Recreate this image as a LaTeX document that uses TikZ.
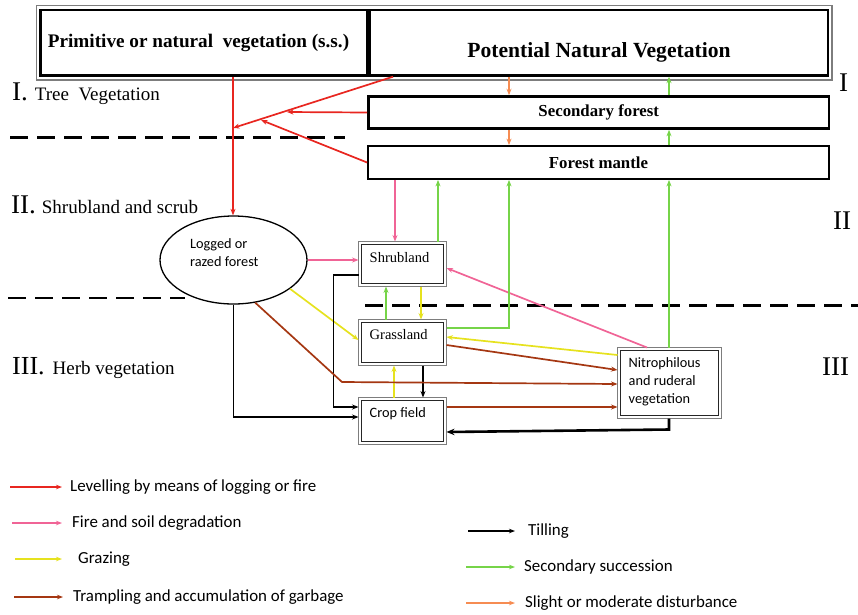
\documentclass[tikz,border=0pt]{standalone}
\usepackage{fontspec}
\setmainfont{Liberation Serif}
\newfontfamily\calib{Carlito}
\usetikzlibrary{arrows.meta,shapes.geometric}

\definecolor{cLevel}{RGB}{232,38,32}
\definecolor{cFire}{RGB}{240,100,150}
\definecolor{cGraze}{RGB}{230,226,30}
\definecolor{cTrample}{RGB}{165,55,18}
\definecolor{cSucc}{RGB}{118,212,72}
\definecolor{cDist}{RGB}{246,140,82}
\definecolor{cFrame}{RGB}{125,125,125}

\begin{document}
\begin{tikzpicture}[x=1pt, y=-1pt,
  flow/.style={line width=1.7pt, -{Stealth[length=6.5pt,width=5pt]}},
  level/.style={flow, draw=cLevel},
  fire/.style={flow, draw=cFire},
  graze/.style={flow, draw=cGraze},
  trample/.style={flow, draw=cTrample},
  till/.style={flow, draw=black},
  succ/.style={flow, draw=cSucc},
  dist/.style={flow, draw=cDist},
  legarrow/.style={line width=2pt, -{Stealth[length=6pt,width=4.5pt]}},
  bandbox/.style={rectangle, draw=black, line width=2.4pt, inner sep=0},
  layerbox/.style={rectangle, draw=black, inner sep=0,
    font=\bfseries\fontsize{16.8}{16.8}\selectfont},
  cellbox/.style={rectangle, draw=black!85, line width=1pt, inner sep=0, outer sep=3pt},
  frame/.style={draw=cFrame, line width=1.6pt},
  celltext/.style={inner sep=0, font=\fontsize{14.5}{14.5}\selectfont},
  sanstext/.style={inner sep=0, align=left, font=\calib\fontsize{14.3}{18}\selectfont},
  dashline/.style={line width=2.3pt, dash pattern=on 18pt off 9pt},
  zone/.style={anchor=base west, inner sep=0, font=\fontsize{19}{19}\selectfont},
  bignum/.style={anchor=base west, inner sep=0, font=\fontsize{27}{27}\selectfont},
  legend/.style={anchor=west, inner sep=0, font=\calib\fontsize{16.9}{16.9}\selectfont},
]
\useasboundingbox (0,0) rectangle (858,614);

% ---------- top band ----------
\node[bandbox, minimum width=327pt, minimum height=65.5pt,
  label={[font=\bfseries\fontsize{19.2}{19.2}\selectfont, xshift=-5.5pt]center:Primitive or natural\ \ vegetation (s.s.)}]
  (prim) at (204,42.75) {};
\node[bandbox, minimum width=458pt, minimum height=65.5pt,
  label={[font=\bfseries\fontsize{21.6}{21.6}\selectfont, yshift=-9.5pt]center:Potential Natural Vegetation}]
  (pnv) at (599,42.75) {};
\draw[frame] ([shift={(-3pt,3.5pt)}]prim.north west) rectangle ([shift={(3pt,-3pt)}]pnv.south east);

\node[layerbox, line width=2.6pt, minimum width=460.5pt, minimum height=32pt] (sf) at (598.75,112.5) {Secondary forest};
\node[layerbox, line width=1.8pt, minimum width=461pt, minimum height=33pt] (fm) at (598.5,162.5) {Forest mantle};

% ---------- zone separators and labels ----------
\draw[dashline] (10,137.5) -- (345,137.5);
\draw[dashline] (8,298) -- (185,298);
\draw[dashline] (365,305.5) -- (858,305.5);

\node[zone] (zI) at (12,100) {{\fontsize{27}{27}\selectfont I.}\hspace{7pt}Tree\ \ Vegetation};
\node[zone] (zII) at (11,213) {{\fontsize{27}{27}\selectfont II.}\hspace{6pt}Shrubland and scrub};
\node[zone] (zIII) at (12,374) {{\fontsize{26}{26}\selectfont III.}\hspace{8pt}Herb vegetation};
\node[bignum] (rI) at (839,91) {I};
\node[bignum] (rII) at (833,229) {II};
\node[bignum] (rIII) at (822,375) {III};

% ---------- vegetation stages ----------
\node[ellipse, draw, line width=1.3pt, minimum width=147pt, minimum height=88pt, inner sep=0,
  label={[sanstext, anchor=west, xshift=30.5pt, yshift=7pt]west:Logged or\\razed forest}]
  (ell) at (233.5,260) {};

\node[cellbox, minimum width=82pt, minimum height=39pt,
  label={[celltext, anchor=base west, xshift=11pt, yshift=-21pt]north west:Shrubland}]
  (shrub) at (402.5,264) {};
\node[cellbox, minimum width=82pt, minimum height=40pt,
  label={[celltext, anchor=base west, xshift=11pt, yshift=-20pt]north west:Grassland}]
  (grass) at (402.5,342.5) {};
\node[cellbox, minimum width=82pt, minimum height=41pt,
  label={[sanstext, anchor=base west, xshift=11pt, yshift=-20pt]north west:Crop field}]
  (crop) at (402.5,421) {};
\node[cellbox, minimum width=98pt, minimum height=65pt,
  label={[sanstext, anchor=west, xshift=11pt, yshift=1.5pt]west:Nitrophilous\\and ruderal\\vegetation}]
  (nitro) at (669.5,383) {};
\foreach \n in {shrub,grass,crop,nitro}
  \draw[frame] (\n.north west) rectangle (\n.south east);

% ---------- levelling by logging or fire ----------
\coordinate (J) at (233,128);
\coordinate (K1) at (287,112);
\coordinate (K2) at (261,120);
\draw[level] (393,0 |- pnv.south) -- (J);
\draw[level] (sf.west) -- (K1);
\draw[level] (fm.west) -- (K2);
\draw[level] (233,0 |- prim.south) -- (233,0 |- ell.north);

% ---------- fire and soil degradation ----------
\draw[fire] (395,0 |- fm.south) -- (395,0 |- shrub.north);
\draw[fire] (ell.east) -- (ell.east -| shrub.west);
\draw[fire] (647,0 |- nitro.north) -- ([yshift=-4pt]shrub.east);

% ---------- secondary succession ----------
\draw[succ] (438,0 |- shrub.north) -- (438,0 |- fm.south);
\draw[succ] ([yshift=14.5pt]grass.east) -| (509,0 |- fm.south);
\draw[succ] (669,0 |- nitro.north) -- (669,0 |- fm.south);
\draw[succ] (669,0 |- fm.north) -- (669,0 |- sf.south);
\draw[succ] (669,0 |- sf.north) -- (669,0 |- pnv.south);
\draw[succ] (386,0 |- grass.north) -- (386,0 |- shrub.south);

% ---------- slight or moderate disturbance ----------
\draw[dist] (509,0 |- pnv.south) -- (509,0 |- sf.north);
\draw[dist] (509,0 |- sf.south) -- (509,0 |- fm.north);

% ---------- grazing ----------
\draw[graze] (421,0 |- shrub.south) -- (421,0 |- grass.north);
\draw[graze] (ell.-27) -- ([yshift=2.5pt]grass.west);
\draw[graze] ([yshift=28pt]nitro.west) -- ([yshift=5.5pt]grass.east);
\draw[graze] (394,0 |- crop.north) -- (394,0 |- grass.south);

% ---------- tilling ----------
\draw[till] (423,0 |- grass.south) -- (423,0 |- crop.north);
\draw[till] ([yshift=-11pt]shrub.west) -- ++(-25,0) |- ([yshift=14pt]crop.west);
\draw[till] (ell.south) |- ([yshift=4pt]crop.west);
\draw[line width=2.6pt, -{Stealth[length=8pt,width=6.5pt]}]
  (669,0 |- nitro.south) -- ++(0,11) -- ([yshift=-11pt]crop.east);

% ---------- trampling and garbage ----------
\draw[trample] ([yshift=-2.5pt]grass.east) -- ([yshift=13pt]nitro.west);
\draw[trample] (ell.-63) -- (342,382) -- ([yshift=-1pt]nitro.west);
\draw[trample] ([yshift=14pt]crop.east) -- ([yshift=-24pt]nitro.west);

% ---------- key ----------
\node[legend] (lgLevel) at (70,487) {Levelling by means of logging or fire};
\draw[legarrow, draw=cLevel] ([xshift=-60pt]lgLevel.west) -- ([xshift=-8pt]lgLevel.west);
\node[legend] (lgFire) at (72,523) {Fire and soil degradation};
\draw[legarrow, draw=cFire] ([xshift=-60pt]lgFire.west) -- ([xshift=-10pt]lgFire.west);
\node[legend] (lgGraze) at (78,559) {Grazing};
\draw[legarrow, draw=cGraze] ([xshift=-63pt]lgGraze.west) -- ([xshift=-16pt]lgGraze.west);
\node[legend] (lgTrample) at (73,597) {Trampling and accumulation of garbage};
\draw[legarrow, draw=cTrample] ([xshift=-59pt]lgTrample.west) -- ([xshift=-10pt]lgTrample.west);
\node[legend] (lgTill) at (528,531) {Tilling};
\draw[legarrow, draw=black] ([xshift=-60pt]lgTill.west) -- ([xshift=-13pt]lgTill.west);
\node[legend] (lgSucc) at (524,567) {Secondary succession};
\draw[legarrow, draw=cSucc] ([xshift=-58pt]lgSucc.west) -- ([xshift=-9pt]lgSucc.west);
\node[legend] (lgDist) at (525,603) {Slight or moderate disturbance};
\draw[legarrow, draw=cDist] ([xshift=-59pt]lgDist.west) -- ([xshift=-10pt]lgDist.west);
\end{tikzpicture}
\end{document}
